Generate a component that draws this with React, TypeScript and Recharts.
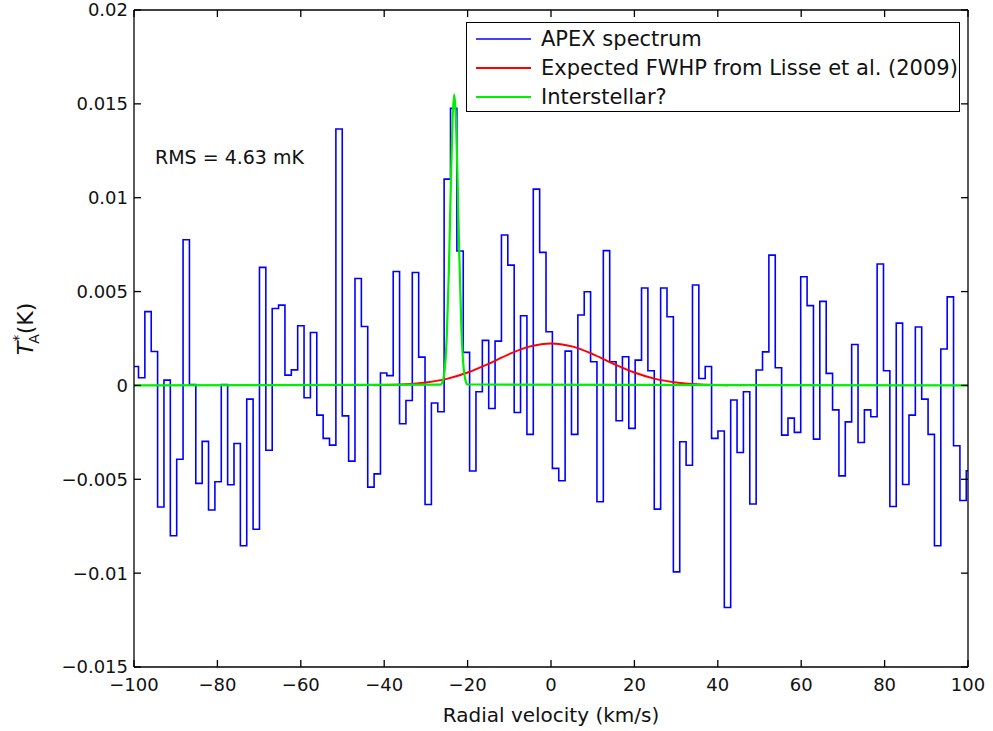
import React from "react";
import { LineChart, Line, XAxis, YAxis, Legend, Label } from "recharts";

// channel grid of the spectrum (km/s): left edge of the first, clipped channel
const CHANNEL_START = -100.45;
const CHANNEL_WIDTH = 1.527;

// APEX spectrum, T*A per channel in mK
const apexMk = [
  1.01, 0.41, 3.93, 1.81, -6.48, 0.28, -8.01, -3.93, 7.76, 0.05,
  -5.22, -2.98, -6.64, -5.13, 0.05, -5.29, -3.09, -8.54, -0.73, -7.66,
  6.29, -3.45, 4.1, 4.28, 0.55, 0.83, 3.18, -0.66, 2.82, -1.58,
  -2.82, -3.18, 13.66, -1.62, -4.03, 5.7, 3.14, -5.42, -4.71, 0.66,
  0.52, 6.07, -2.04, -0.8, 6.02, 1.51, -6.34, -0.94, -1.4, 10.99,
  14.76, 7.16, 1.76, -4.56, -0.34, 2.4, -1.23, 2.36, 8.01, 6.41,
  -1.44, 3.71, -2.61, 10.46, 7.09, 2.86, -4.42, -5.08, 1.83, -2.61,
  3.75, 4.99, 1.26, -6.2, 7.18, 1.26, -1.88, 1.53, -2.29, 1.35,
  5.19, 0.78, -6.59, 5.19, 3.66, -9.93, -3.0, -4.25, 5.35, 0.37,
  1.01, -2.82, -2.43, -11.83, -0.78, -3.57, -0.34, -6.32, 0.82, 1.79,
  6.94, 0.94, -2.65, -1.74, -2.5, 5.79, 4.25, -2.86, 4.48, 0.64,
  -1.3, -4.82, -1.94, 2.18, -3.04, -1.3, -1.67, 6.47, 0.78, -6.45,
  3.32, -5.28, -1.58, 3.11, -0.73, -2.61, -8.54, 1.94, 4.72, -3.21,
  -6.13, -4.55,
];

// expected line width from Lisse et al. (2009)
const lisseVelocity = [-42.5, -40, -35, -30, -25, -20, -15, -10, -5, 0, 5, 10, 15, 20, 25, 30, 35, 40, 42.5];
const lisseMk = [0.01, 0.02, 0.06, 0.16, 0.35, 0.69, 1.15, 1.67, 2.08, 2.24, 2.08, 1.67, 1.15, 0.69, 0.35, 0.16, 0.06, 0.02, 0.01];

// interstellar component
const ismVelocity = [-100, -26.5, -26, -25.5, -25, -24.5, -24, -23.6, -23.2, -22.8, -22.4, -22, -21.5, -21, -20.5, -20, 100];
const ismMk = [0, 0.04, 0.2, 0.83, 2.57, 6.08, 10.9, 14.2, 15.5, 14.2, 10.9, 7.0, 3.1, 1.06, 0.27, 0.05, 0];

const xTicks = [-100, -80, -60, -40, -20, 0, 20, 40, 60, 80, 100];
const yTicks = [-0.015, -0.01, -0.005, 0, 0.005, 0.01, 0.015, 0.02];

const apexData = apexMk.map((t, i) => ({ v: CHANNEL_START + i * CHANNEL_WIDTH, t: t / 1000 }));
apexData.push({ v: CHANNEL_START + apexMk.length * CHANNEL_WIDTH, t: apexMk[apexMk.length - 1] / 1000 });
const lisseData = lisseVelocity.map((v, i) => ({ v, t: lisseMk[i] / 1000 }));
const ismData = ismVelocity.map((v, i) => ({ v, t: ismMk[i] / 1000 }));

const FONT = "'DejaVu Sans', sans-serif";
const AXIS = { stroke: "#000", strokeWidth: 1.3 };

const fmtY = (v: number) => (v === 0 ? "0" : (v < 0 ? "\u2212" : "") + String(Math.abs(v)));
const fmtX = (v: number) => (v < 0 ? "\u2212" + Math.abs(v) : String(v));
const noLabel = () => "";

const legendItems = [
  { name: "APEX spectrum", color: "#0000ff", width: 1.6 },
  { name: "Expected FWHP from Lisse et al. (2009)", color: "#ff0000", width: 2 },
  { name: "Interstellar?", color: "#00ee00", width: 2.2 },
];

const renderLegend = () => (
  <div
    style={{
      width: 492,
      height: 87,
      border: "1.5px solid #000",
      background: "#fff",
      fontFamily: FONT,
      fontSize: 21,
      paddingTop: 1,
      boxSizing: "content-box",
    }}
  >
    {legendItems.map((it) => (
      <div key={it.name} style={{ display: "flex", alignItems: "center", height: 29 }}>
        <svg width={74} height={10} style={{ flex: "none" }}>
          <line x1={9} x2={64} y1={5} y2={5} stroke={it.color} strokeWidth={it.width} />
        </svg>
        <span style={{ whiteSpace: "nowrap", color: "#111" }}>{it.name}</span>
      </div>
    ))}
  </div>
);

const YTitle = () => (
  <text
    x={33}
    y={329}
    transform="rotate(-90 33 329)"
    textAnchor="middle"
    fontFamily={FONT}
    fontSize={22}
    fill="#111"
  >
    <tspan fontStyle="italic">T</tspan>
    <tspan fontSize={14} dy={-10}>*</tspan>
    <tspan fontSize={14} dx={-9} dy={16}>A</tspan>
    <tspan dy={-6}>(K)</tspan>
  </text>
);

export default function App() {
  return (
    <div style={{ position: "absolute", left: 0, top: 0, width: 993, height: 731, background: "#fff" }}>
      <LineChart width={993} height={731} margin={{ top: 9, right: 24, bottom: 24, left: 74 }}>
        <XAxis
          dataKey="v"
          type="number"
          domain={[-100, 100]}
          ticks={xTicks}
          interval={0}
          allowDataOverflow
          height={40}
          tickSize={-7}
          tickMargin={18}
          tickFormatter={fmtX}
          axisLine={AXIS}
          tickLine={AXIS}
          tick={{ fill: "#111", fontSize: 18, fontFamily: FONT }}
        >
          <Label value="Radial velocity (km/s)" position="bottom" offset={1} fill="#111" fontSize={20} fontFamily={FONT} />
        </XAxis>
        <XAxis
          xAxisId="top"
          orientation="top"
          dataKey="v"
          type="number"
          domain={[-100, 100]}
          ticks={xTicks}
          interval={0}
          allowDataOverflow
          height={1}
          tickSize={-7}
          tickFormatter={noLabel}
          axisLine={AXIS}
          tickLine={AXIS}
        />
        <YAxis
          type="number"
          domain={[-0.015, 0.02]}
          ticks={yTicks}
          interval={0}
          allowDataOverflow
          width={60}
          tickSize={-7}
          tickMargin={13}
          tickFormatter={fmtY}
          axisLine={AXIS}
          tickLine={AXIS}
          tick={{ fill: "#111", fontSize: 18, fontFamily: FONT }}
        >
          <Label content={() => <YTitle />} />
        </YAxis>
        <YAxis
          yAxisId="right"
          orientation="right"
          type="number"
          domain={[-0.015, 0.02]}
          ticks={yTicks}
          interval={0}
          allowDataOverflow
          width={1}
          tickSize={-7}
          tickFormatter={noLabel}
          axisLine={AXIS}
          tickLine={AXIS}
        />
        <Legend
          layout="vertical"
          align="center"
          verticalAlign="middle"
          content={renderLegend}
          wrapperStyle={{ left: 466, top: 22, width: 495 }}
        />
        {/* invisible series so the top and right frame axes get a scale */}
        <Line
          xAxisId="top"
          yAxisId="right"
          data={ismData}
          dataKey="t"
          stroke="transparent"
          legendType="none"
          dot={false}
          activeDot={false}
          isAnimationActive={false}
        />
        <Line
          data={apexData}
          dataKey="t"
          type="stepAfter"
          stroke="#0000ff"
          strokeWidth={1.6}
          dot={false}
          isAnimationActive={false}
        />
        <Line
          data={lisseData}
          dataKey="t"
          type="monotone"
          stroke="#ff0000"
          strokeWidth={2}
          dot={false}
          isAnimationActive={false}
        />
        <Line
          data={ismData}
          dataKey="t"
          type="monotone"
          stroke="#00ee00"
          strokeWidth={2.2}
          dot={false}
          isAnimationActive={false}
        />
      </LineChart>
      <div
        style={{
          position: "absolute",
          left: 155,
          top: 146,
          fontFamily: FONT,
          fontSize: 19,
          color: "#111",
          whiteSpace: "nowrap",
        }}
      >
        RMS = 4.63 mK
      </div>
    </div>
  );
}
